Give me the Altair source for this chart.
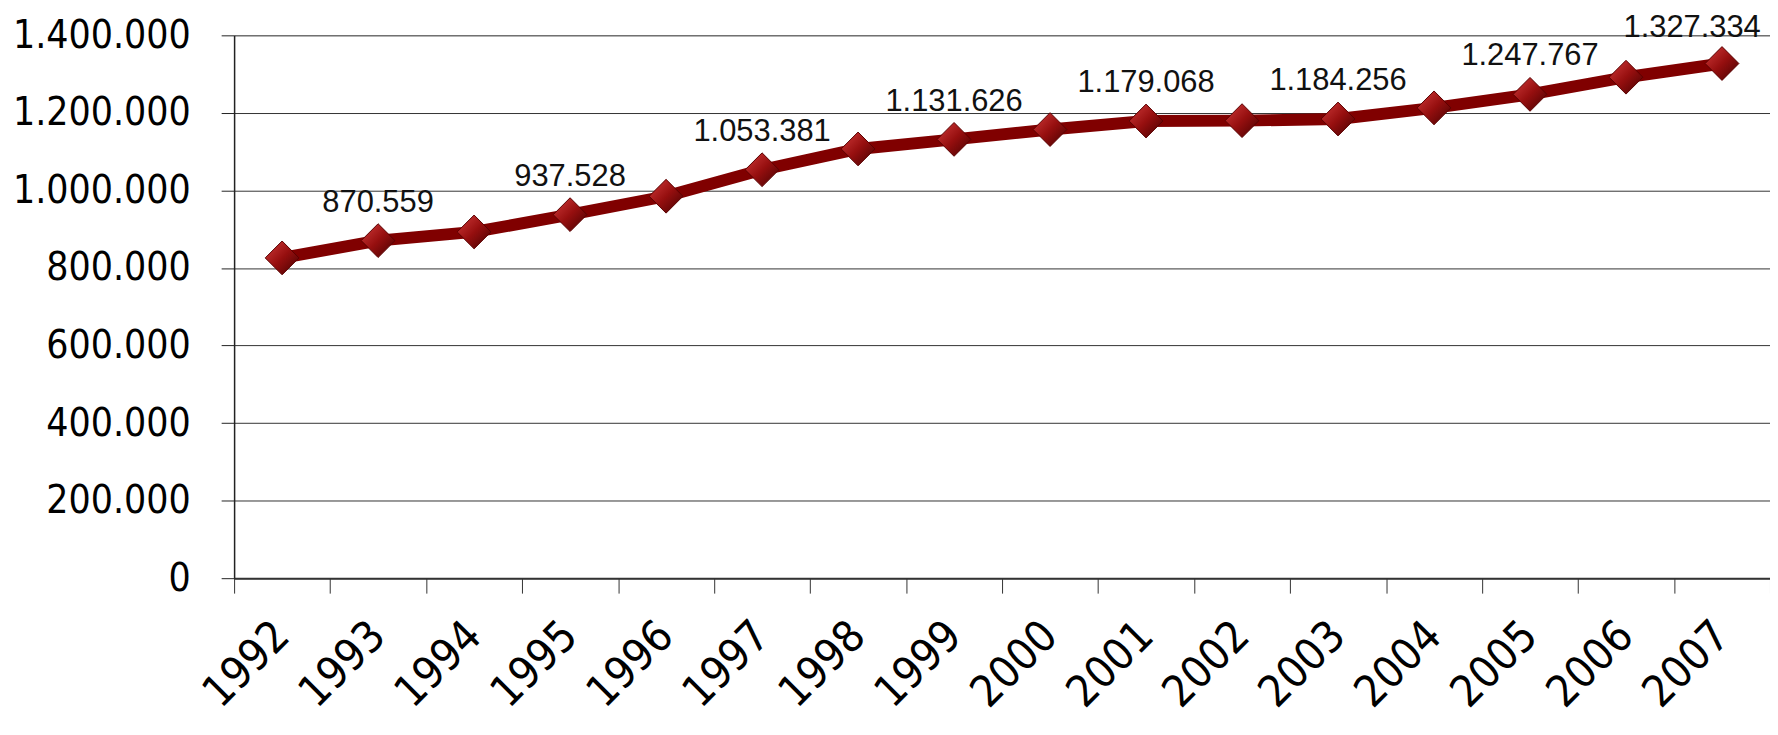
import altair as alt
import pandas as pd

years = ["1992", "1993", "1994", "1995", "1996", "1997", "1998", "1999",
         "2000", "2001", "2002", "2003", "2004", "2005", "2006", "2007"]
values = [826000, 870559, 893000, 937528, 985000, 1053381, 1107000, 1131626,
          1157000, 1179068, 1180000, 1184256, 1213000, 1247767, 1292000, 1327334]
labeled_years = ["1993", "1995", "1997", "1999", "2001", "2003", "2005", "2007"]
y_ticks = [0, 200000, 400000, 600000, 800000, 1000000, 1200000, 1400000]

df = pd.DataFrame({
    "year": years,
    "value": values,
    "labeled": [y in labeled_years for y in years],
})

AX_FONT = "DejaVu Sans Condensed, DejaVu Sans"

x_enc = alt.X(
    "year:N", sort=years,
    scale=alt.Scale(type="band", paddingInner=0, paddingOuter=0),
    axis=alt.Axis(title=None, labelAngle=-45, labelAlign="right", labelBaseline="middle",
                  labelFont=AX_FONT, labelFontSize=44, labelColor="#000",
                  labelPadding=36, tickSize=15, tickBand="extent", tickColor="#333",
                  domainColor="#333", domainWidth=2, grid=False, labelOverlap=False),
)
y_enc = alt.Y(
    "value:Q",
    scale=alt.Scale(domain=[0, 1400000], nice=False),
    axis=alt.Axis(title=None, values=y_ticks, format=",d", labelFont=AX_FONT,
                  labelFontSize=39, labelColor="#000", labelPadding=31, tickSize=13,
                  tickColor="#222", domainColor="#222", domainWidth=1.5,
                  grid=True, gridColor="#333", gridWidth=1),
)

base = alt.Chart(df).encode(x=x_enc, y=y_enc)

line = base.mark_line(color="#800000", strokeWidth=12, strokeJoin="round")

gradient = {
    "gradient": "linear", "x1": 0, "y1": 0, "x2": 1, "y2": 1,
    "stops": [
        {"offset": 0, "color": "#d23c3c"},
        {"offset": 0.5, "color": "#960f0f"},
        {"offset": 1, "color": "#440000"},
    ],
}
points = base.mark_point(shape="diamond", filled=True, size=1150, fill=gradient,
                         opacity=1, stroke="#5a0000", strokeWidth=1)

labels = base.transform_filter(
    "datum.labeled && datum.year != '2007'"
).mark_text(font="Liberation Sans", fontSize=31, dy=-29, baseline="alphabetic",
            color="#111").encode(text=alt.Text("value:Q", format=",d"))

last_label = base.transform_filter(
    "datum.year == '2007'"
).mark_text(font="Liberation Sans", fontSize=31, dy=-27, dx=-30, baseline="alphabetic",
            color="#111").encode(text=alt.Text("value:Q", format=",d"))

chart = alt.layer(line, points, labels, last_label).properties(
    width=1542, height=545,
    autosize=alt.AutoSizeParams(type="none"),
    padding={"left": 227, "top": 26, "right": 0, "bottom": 156},
).configure_view(strokeWidth=0).configure(
    locale={"number": {"decimal": ",", "thousands": ".", "grouping": [3],
                       "currency": ["", " €"]}}
)

chart.save("out.html", embed_options={"renderer": "svg", "actions": False})
